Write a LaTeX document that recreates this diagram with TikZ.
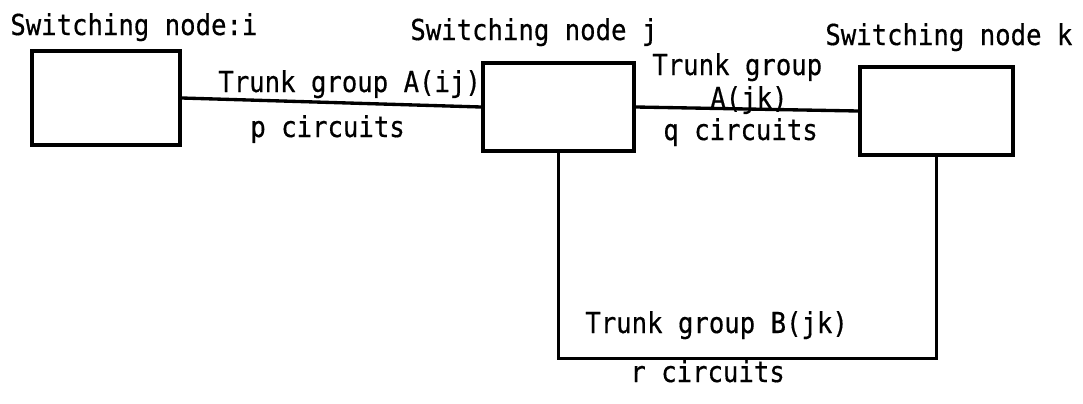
\documentclass[tikz,border=0pt]{standalone}
\usepackage{fontspec}
\newfontfamily\typefont[FakeStretch=0.89, FakeBold=0.5]{DejaVu Sans Mono}
\usepackage{tikz}
\usetikzlibrary{positioning,calc}

\begin{document}
\begin{tikzpicture}[
  x=0.2mm, y=-0.2mm,
  swbox/.style={draw, line width=2pt, inner sep=0pt},
  trunk/.style={line width=1.9pt},
  lbl/.style={font=\typefont\fontsize{16.4}{19}\selectfont, inner sep=0pt, anchor=base west}
]
\useasboundingbox (0,0) rectangle (1083,403);

% switching nodes
\node[swbox, minimum width=2.96cm, minimum height=1.88cm] (bi) at (106,98) {};
\node[swbox, minimum width=3.02cm, minimum height=1.76cm] (bj) at (558.5,107) {};
\node[swbox, minimum width=3.06cm, minimum height=1.76cm] (bk) at (936.5,111) {};

\node[lbl] (ti) at (10,35) {Switching node:i};
\node[lbl] (tj) at (410,40) {Switching node j};
\node[lbl] (tk) at (825,45) {Switching node k};

% trunk groups
\draw[trunk] (bi.east) -- (bj.west);
\draw[trunk] (bj.east) -- (bk.west);
\draw[trunk] (bj.south) -- ++(0,206) -| (bk.south);

\node[lbl] (aij) at (218,92) {Trunk group A(ij)};
\node[lbl] (pc) at (250,137) {p circuits};
\node[lbl] (ajk) at (652,75) {Trunk group};
\node[lbl] (ajk2) at (710,108) {A(jk)};
\node[lbl] (qc) at (663,140) {q circuits};
\node[lbl] (bjk) at (585,333) {Trunk group B(jk)};
\node[lbl] (rc) at (630,382) {r circuits};
\end{tikzpicture}
\end{document}
